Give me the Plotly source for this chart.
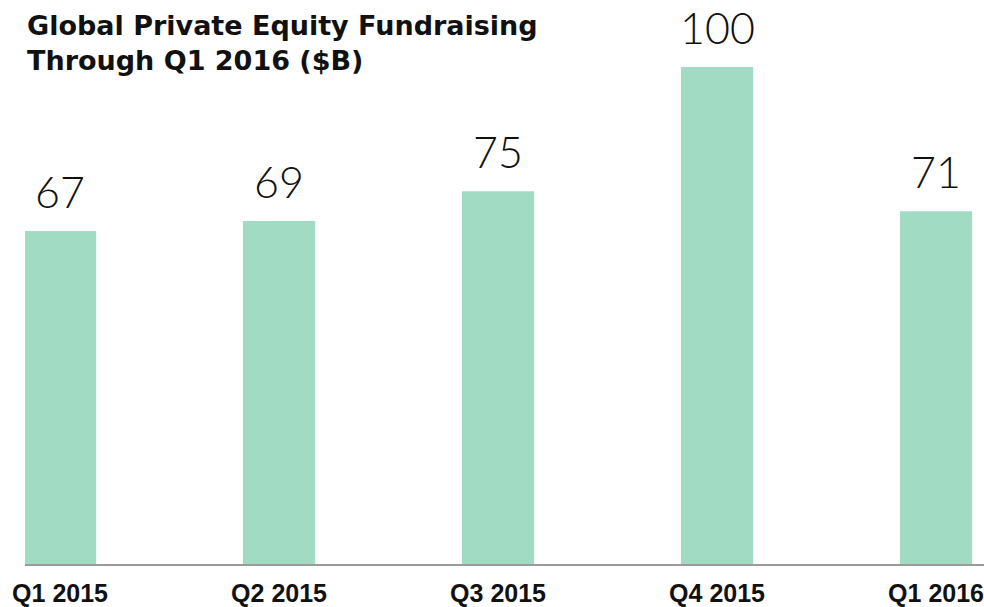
import plotly.graph_objects as go

categories = ["Q1 2015", "Q2 2015", "Q3 2015", "Q4 2015", "Q1 2016"]
values = [67, 69, 75, 100, 71]
title_text = "Global Private Equity Fundraising<br>Through Q1 2016 ($B)"

positions = list(range(len(categories)))
bar_color = "#a2dbc4"

fig = go.Figure()
fig.add_trace(go.Bar(
    x=positions, y=values, width=0.33,
    marker=dict(color=bar_color, line=dict(width=0)),
    hoverinfo="skip",
))

for p, v in zip(positions, values):
    fig.add_annotation(
        x=p, y=v, xref="x", yref="y", text=str(v), showarrow=False,
        yanchor="bottom", yshift=12,
        font=dict(family="Lato", size=43, color="#111111", weight=300),
    )

fig.add_annotation(
    x=0, y=1, xref="paper", yref="paper", xanchor="left", yanchor="top",
    yshift=59, xshift=0, align="left", showarrow=False, text=title_text,
    font=dict(family="DejaVu Sans", size=27, color="#111111", weight="bold"),
)

fig.update_layout(
    width=984, height=607,
    margin=dict(l=25, r=0, t=67, b=40),
    plot_bgcolor="white", paper_bgcolor="white",
    showlegend=False,
    xaxis=dict(
        tickmode="array", tickvals=positions, ticktext=categories,
        range=[-0.16, 4.219], showgrid=False, zeroline=False,
        showline=True, linecolor="#9a9a9a", linewidth=2,
        ticks="outside", ticklen=6, tickcolor="rgba(0,0,0,0)",
        ticklabeloverflow="allow",
        tickfont=dict(family="Liberation Sans", size=25, color="#111111", weight="bold"),
    ),
    yaxis=dict(range=[0, 100], visible=False, showgrid=False, zeroline=False),
)

fig.write_html("out.html", config={"displayModeBar": False},
               post_script="document.body.style.margin='0';")
